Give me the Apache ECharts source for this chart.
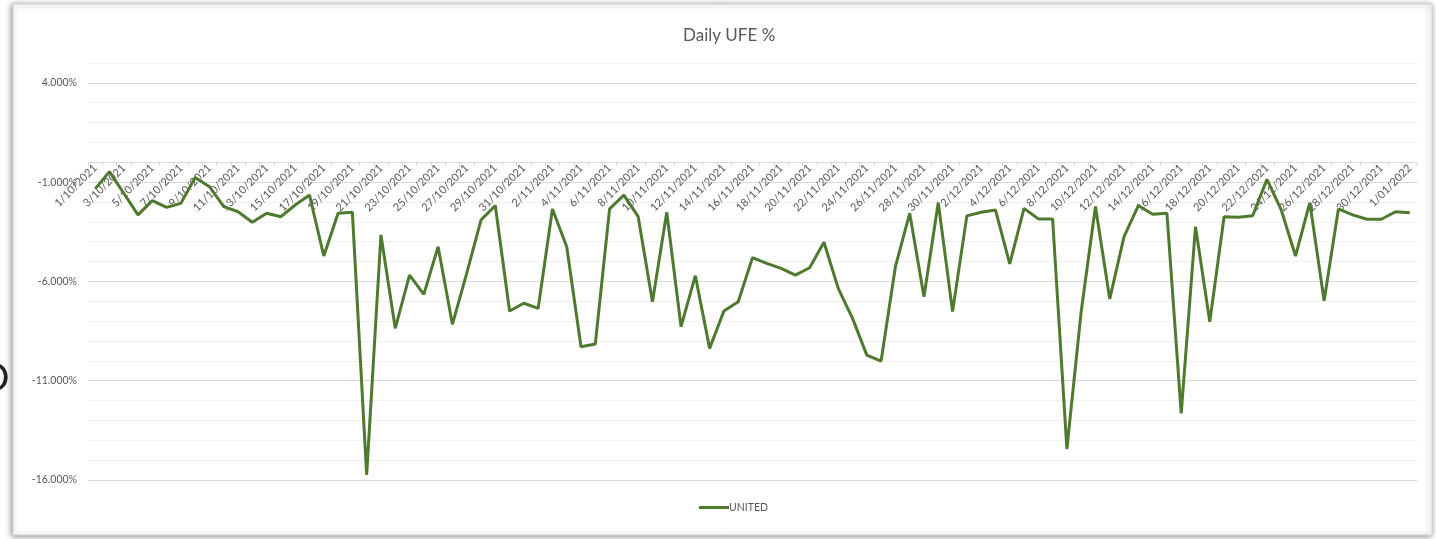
<!DOCTYPE html>
<html>
<head>
<meta charset="utf-8">
<script src="https://cdn.jsdelivr.net/npm/echarts@6/dist/echarts.min.js"></script>
<style>
html,body{margin:0;padding:0;background:#fff;}
#c{width:1436px;height:539px;}
</style>
</head>
<body>
<div id="c"></div>
<script>
var categories = [
 "1/10/2021","2/10/2021","3/10/2021","4/10/2021","5/10/2021","6/10/2021","7/10/2021","8/10/2021","9/10/2021","10/10/2021",
 "11/10/2021","12/10/2021","13/10/2021","14/10/2021","15/10/2021","16/10/2021","17/10/2021","18/10/2021","19/10/2021","20/10/2021",
 "21/10/2021","22/10/2021","23/10/2021","24/10/2021","25/10/2021","26/10/2021","27/10/2021","28/10/2021","29/10/2021","30/10/2021","31/10/2021",
 "1/11/2021","2/11/2021","3/11/2021","4/11/2021","5/11/2021","6/11/2021","7/11/2021","8/11/2021","9/11/2021","10/11/2021",
 "11/11/2021","12/11/2021","13/11/2021","14/11/2021","15/11/2021","16/11/2021","17/11/2021","18/11/2021","19/11/2021","20/11/2021",
 "21/11/2021","22/11/2021","23/11/2021","24/11/2021","25/11/2021","26/11/2021","27/11/2021","28/11/2021","29/11/2021","30/11/2021",
 "1/12/2021","2/12/2021","3/12/2021","4/12/2021","5/12/2021","6/12/2021","7/12/2021","8/12/2021","9/12/2021","10/12/2021",
 "11/12/2021","12/12/2021","13/12/2021","14/12/2021","15/12/2021","16/12/2021","17/12/2021","18/12/2021","19/12/2021","20/12/2021",
 "21/12/2021","22/12/2021","23/12/2021","24/12/2021","25/12/2021","26/12/2021","27/12/2021","28/12/2021","29/12/2021","30/12/2021","31/12/2021",
 "1/01/2022"
];

var unitedValues = [
 -1.34,-0.47,-1.56,-2.65,-1.93,-2.27,-2.07,-0.77,-1.23,-2.23,
 -2.49,-3.02,-2.57,-2.74,-2.15,-1.65,-4.72,-2.57,-2.52,-15.75,
 -3.66,-8.36,-5.68,-6.65,-4.25,-8.16,-5.59,-2.91,-2.18,-7.49,
 -7.10,-7.36,-2.35,-4.25,-9.29,-9.15,-2.35,-1.65,-2.74,-7.02,
 -2.52,-8.28,-5.71,-9.37,-7.49,-7.02,-4.80,-5.09,-5.34,-5.68,
 -5.31,-4.03,-6.35,-7.86,-9.71,-10.01,-5.26,-2.57,-6.77,-2.03,
 -7.52,-2.70,-2.52,-2.40,-5.12,-2.32,-2.85,-2.85,-14.44,-7.52,
 -2.23,-6.88,-3.74,-2.18,-2.62,-2.57,-12.64,-3.24,-8.03,-2.74,
 -2.77,-2.69,-0.86,-2.40,-4.72,-2.03,-6.97,-2.35,-2.65,-2.87,
 -2.87,-2.49,-2.54
];

var seriesName = "UNITED";
var chartTitle = "Daily UFE %";

var FONT = "Lato";
var yMin = -16, yMax = 5;
var gridTop = 63, gridBottom = 59, H = 539;
var plotH = H - gridTop - gridBottom;
var zeroOffset = -plotH * (0 - yMin) / (yMax - yMin);

var chart = echarts.init(document.getElementById('c'), null, {renderer:'canvas'});
chart.setOption({
  animation:false,
  backgroundColor:'#ffffff',
  textStyle:{fontFamily:FONT},
  title:{
    text:chartTitle, left:678, top:22,
    textStyle:{fontFamily:FONT, fontSize:17, fontWeight:'normal', color:'#595959'}
  },
  legend:{
    bottom:21, left:694,
    itemWidth:30, itemHeight:3, itemGap:10,
    icon:'rect',
    textStyle:{fontFamily:FONT, fontSize:10.5, color:'#595959', padding:[0,0,0,-5]},
    data:[seriesName]
  },
  graphic:[
    {type:'rect', z:-10, silent:true,
     shape:{x:13,y:4,width:1419,height:531},
     style:{fill:'#ffffff', stroke:'#d4d4d4', lineWidth:1,
            shadowBlur:6, shadowColor:'rgba(0,0,0,0.45)', shadowOffsetX:-1, shadowOffsetY:1}},
    {type:'text', left:-21, top:360, silent:true,
     style:{text:'O', fontFamily:FONT, fontSize:38, fill:'#222222'}}
  ],
  grid:{left:88, right:19, top:gridTop, bottom:gridBottom, containLabel:false},
  xAxis:{
    type:'category',
    data:categories,
    boundaryGap:true,
    offset:zeroOffset,
    axisLine:{onZero:false, lineStyle:{color:'#d9d9d9', width:1}},
    axisTick:{show:true, interval:0, length:4, lineStyle:{color:'#d9d9d9'}},
    axisLabel:{interval:1, rotate:45, margin:4, fontFamily:FONT, fontSize:11, color:'#595959'},
    splitLine:{show:false}
  },
  yAxis:{
    type:'value',
    min:yMin, max:yMax, interval:1,
    axisLine:{show:false},
    axisTick:{show:false},
    axisLabel:{
      fontFamily:FONT, fontSize:10.5, color:'#595959', margin:11,
      formatter:function(v){ return ((Math.round(v)+16)%5===0 && v<5) ? v.toFixed(3)+'%' : ''; }
    },
    splitLine:{show:true, lineStyle:{color:['#d9d9d9','#f0f0f0','#f0f0f0','#f0f0f0','#f0f0f0'], width:1}}
  },
  series:[{
    name:seriesName,
    type:'line',
    data:unitedValues,
    symbol:'none',
    lineStyle:{color:'#4e7a2f', width:3},
    itemStyle:{color:'#4e7a2f'},
    z:5
  }]
});
</script>
</body>
</html>
